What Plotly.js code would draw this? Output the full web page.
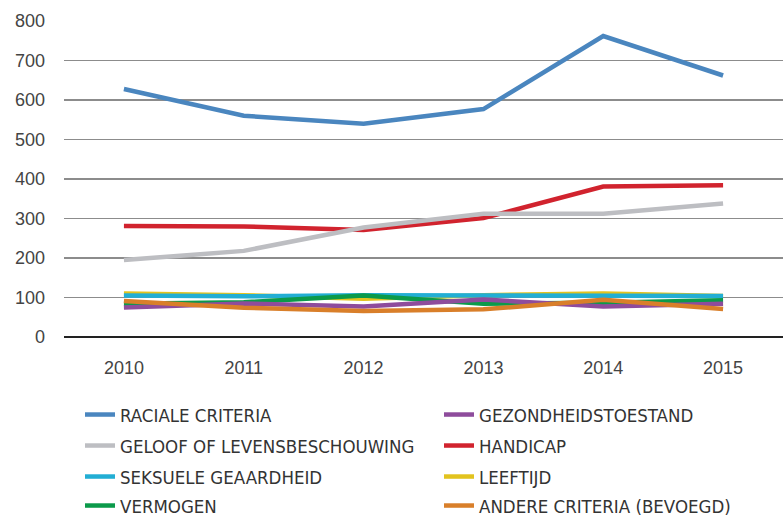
<!DOCTYPE html>
<html>
<head>
<meta charset="utf-8">
<script src="https://cdn.plot.ly/plotly-3.0.1.min.js"></script>
<style>html,body{margin:0;padding:0;background:#fff}#chart{width:783px;height:517px}</style>
</head>
<body>
<div id="chart"></div>
<script>
const years = ['2010','2011','2012','2013','2014','2015'];
const raciale   = [628, 560, 540, 577, 762, 662];
const handicap  = [281, 280, 271, 301, 381, 384];
const geloof    = [195, 218, 277, 312, 312, 338];
const leeftijd  = [110, 106, 97, 106, 110, 104];
const seksuele  = [105, 103, 106, 106, 105, 104];
const vermogen  = [84, 88, 105, 84, 87, 93];
const gezond    = [75, 85, 77, 95, 77, 84];
const andere    = [91, 74, 66, 70, 94, 71];

const series = [
  {name:'RACIALE CRITERIA', y:raciale, color:'#4a86bf', legend:'legend', rank:1},
  {name:'HANDICAP', y:handicap, color:'#d1232e', legend:'legend2', rank:4},
  {name:'GELOOF OF LEVENSBESCHOUWING', y:geloof, color:'#bdbec2', legend:'legend2', rank:3},
  {name:'LEEFTIJD', y:leeftijd, color:'#e2c31e', legend:'legend3', rank:6},
  {name:'SEKSUELE GEAARDHEID', y:seksuele, color:'#22aed4', legend:'legend3', rank:5},
  {name:'VERMOGEN', y:vermogen, color:'#0b9a4a', legend:'legend4', rank:7},
  {name:'GEZONDHEIDSTOESTAND', y:gezond, color:'#8e4c9c', legend:'legend', rank:2},
  {name:'ANDERE CRITERIA (BEVOEGD)', y:andere, color:'#d97f2a', legend:'legend4', rank:8}
];

const traces = series.map(s => ({
  type:'scatter', mode:'lines', x:years, y:s.y, name:s.name,
  line:{color:s.color, width:4.5}, legend:s.legend, legendrank:s.rank,
  hoverinfo:'x+y+name'
}));

const legFont = {family:'"Liberation Sans Narrow", "DejaVu Sans Condensed", "Liberation Sans", sans-serif', size:18.5, color:'#333'};
function leg(ypx){
  return {orientation:'h', xref:'container', yref:'container', x:80/783, xanchor:'left',
    y:1 - ypx/517, yanchor:'middle', entrywidth:314, entrywidthmode:'pixels',
    font:legFont, bgcolor:'rgba(0,0,0,0)', itemwidth:30, traceorder:'normal'};
}

const tickFont = {family:'"Liberation Sans", Arial, sans-serif', size:18, color:'#444'};

const layout = {
  width:783, height:517,
  margin:{l:64, r:0, t:21, b:180},
  paper_bgcolor:'#fff', plot_bgcolor:'#fff',
  showlegend:true,
  xaxis:{type:'category', range:[-0.5,5.5], showgrid:false, zeroline:false, showline:false,
    ticks:'', tickfont:tickFont, ticklabelstandoff:18, fixedrange:true},
  yaxis:{range:[0,800], dtick:100, showgrid:true, gridcolor:'#8c8c8c', gridwidth:1.5,
    zeroline:true, zerolinecolor:'#222', zerolinewidth:1.5, showline:false,
    ticks:'', tickfont:tickFont, ticklabelstandoff:18, fixedrange:true},
  legend:leg(415), legend2:leg(446), legend3:leg(477), legend4:leg(506)
};

Plotly.newPlot('chart', traces, layout, {displayModeBar:false, staticPlot:true});
</script>
</body>
</html>
